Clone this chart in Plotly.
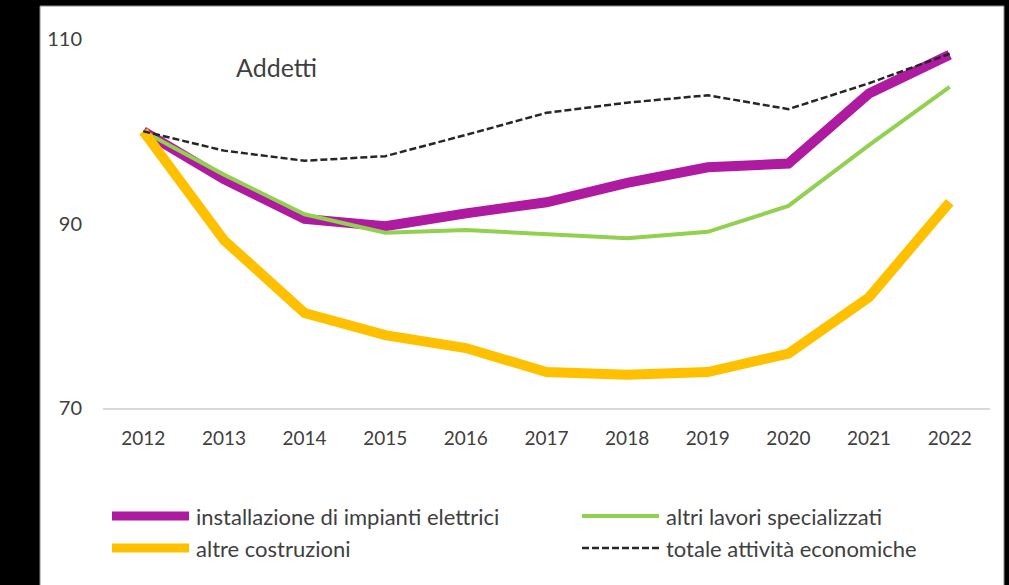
import plotly.graph_objects as go

# data (index 2012 = 100)
anni = ["2012", "2013", "2014", "2015", "2016", "2017", "2018", "2019", "2020", "2021", "2022"]
impianti_elettrici = [100, 94.8, 90.5, 89.7, 91.1, 92.3, 94.4, 96.1, 96.5, 104.1, 108.3]
altri_lavori = [100, 95.3, 91.0, 89.0, 89.3, 88.9, 88.4, 89.1, 91.9, 98.5, 104.8]
altre_costruzioni = [100, 88.2, 80.3, 77.9, 76.5, 73.9, 73.6, 73.9, 75.9, 82.0, 92.3]
totale = [100, 97.9, 96.8, 97.3, 99.6, 102.0, 103.1, 103.9, 102.4, 105.2, 108.4]

serie = [
    ("installazione di impianti elettrici", impianti_elettrici, "#AE1AA0", 10, "solid"),
    ("altri lavori specializzati", altri_lavori, "#92D050", 4, "solid"),
    ("altre costruzioni", altre_costruzioni, "#FFC000", 10, "solid"),
    ("totale attività economiche", totale, "#262626", 2.5, "7px,3px"),
]

W, H = 1009, 585
L, R, T, B = 103, 990, 39, 408  # plot area in pixels
font_family = "Lato"
text_color = "#404040"


def px_x(x):
    return (x - L) / (R - L)


def px_y(y):
    return (B - y) / (B - T)


fig = go.Figure()
for nome, valori, colore, spessore, stile in serie:
    fig.add_trace(
        go.Scatter(
            x=anni,
            y=valori,
            name=nome,
            mode="lines",
            line=dict(color=colore, width=spessore, dash=stile),
        )
    )

# white card on black background
shapes = [
    dict(
        type="rect", xref="paper", yref="paper", layer="below",
        x0=px_x(40), x1=px_x(1004), y0=px_y(640), y1=px_y(6),
        fillcolor="white", line=dict(color="#8c8c8c", width=1),
    )
]
annotations = [
    dict(
        text="Addetti", xref="paper", yref="paper", x=px_x(234), y=px_y(67),
        xanchor="left", yanchor="middle", showarrow=False,
        font=dict(size=25, color=text_color, family=font_family),
    )
]

# legend drawn by hand (Excel style, long samples)
legend_pos = [(112, 516), (582, 516), (112, 548), (582, 548)]
for (nome, valori, colore, spessore, stile), (lx, ly) in zip(serie, legend_pos):
    w = min(spessore, 9)
    shapes.append(
        dict(
            type="line", xref="paper", yref="paper",
            x0=px_x(lx), x1=px_x(lx + 77), y0=px_y(ly), y1=px_y(ly),
            line=dict(color=colore, width=w, dash=stile),
        )
    )
    annotations.append(
        dict(
            text=nome, xref="paper", yref="paper", x=px_x(lx + 82), y=px_y(ly),
            xanchor="left", yanchor="middle", showarrow=False,
            font=dict(size=22, color=text_color, family=font_family),
        )
    )

fig.update_layout(
    width=W,
    height=H,
    margin=dict(l=L, r=W - R, t=T, b=H - B, pad=0),
    paper_bgcolor="black",
    plot_bgcolor="rgba(0,0,0,0)",
    showlegend=False,
    font=dict(family=font_family, color=text_color, size=18),
    shapes=shapes,
    annotations=annotations,
)
fig.update_xaxes(
    range=[-0.5, 10.5],
    showgrid=False,
    showline=True,
    linecolor="#d9d9d9",
    linewidth=1.5,
    ticks="",
    ticklabelstandoff=12,
    tickfont=dict(size=19, color=text_color),
)
fig.update_yaxes(
    range=[70, 110],
    tickvals=[70, 90, 110],
    showgrid=False,
    zeroline=False,
    showline=False,
    ticks="",
    ticklabelstandoff=20,
    tickfont=dict(size=20, color=text_color),
)

# page margin off so the figure sits at the window corner
fig.write_html(
    "out.html",
    config={"displayModeBar": False},
    post_script="document.body.style.margin='0';",
)
